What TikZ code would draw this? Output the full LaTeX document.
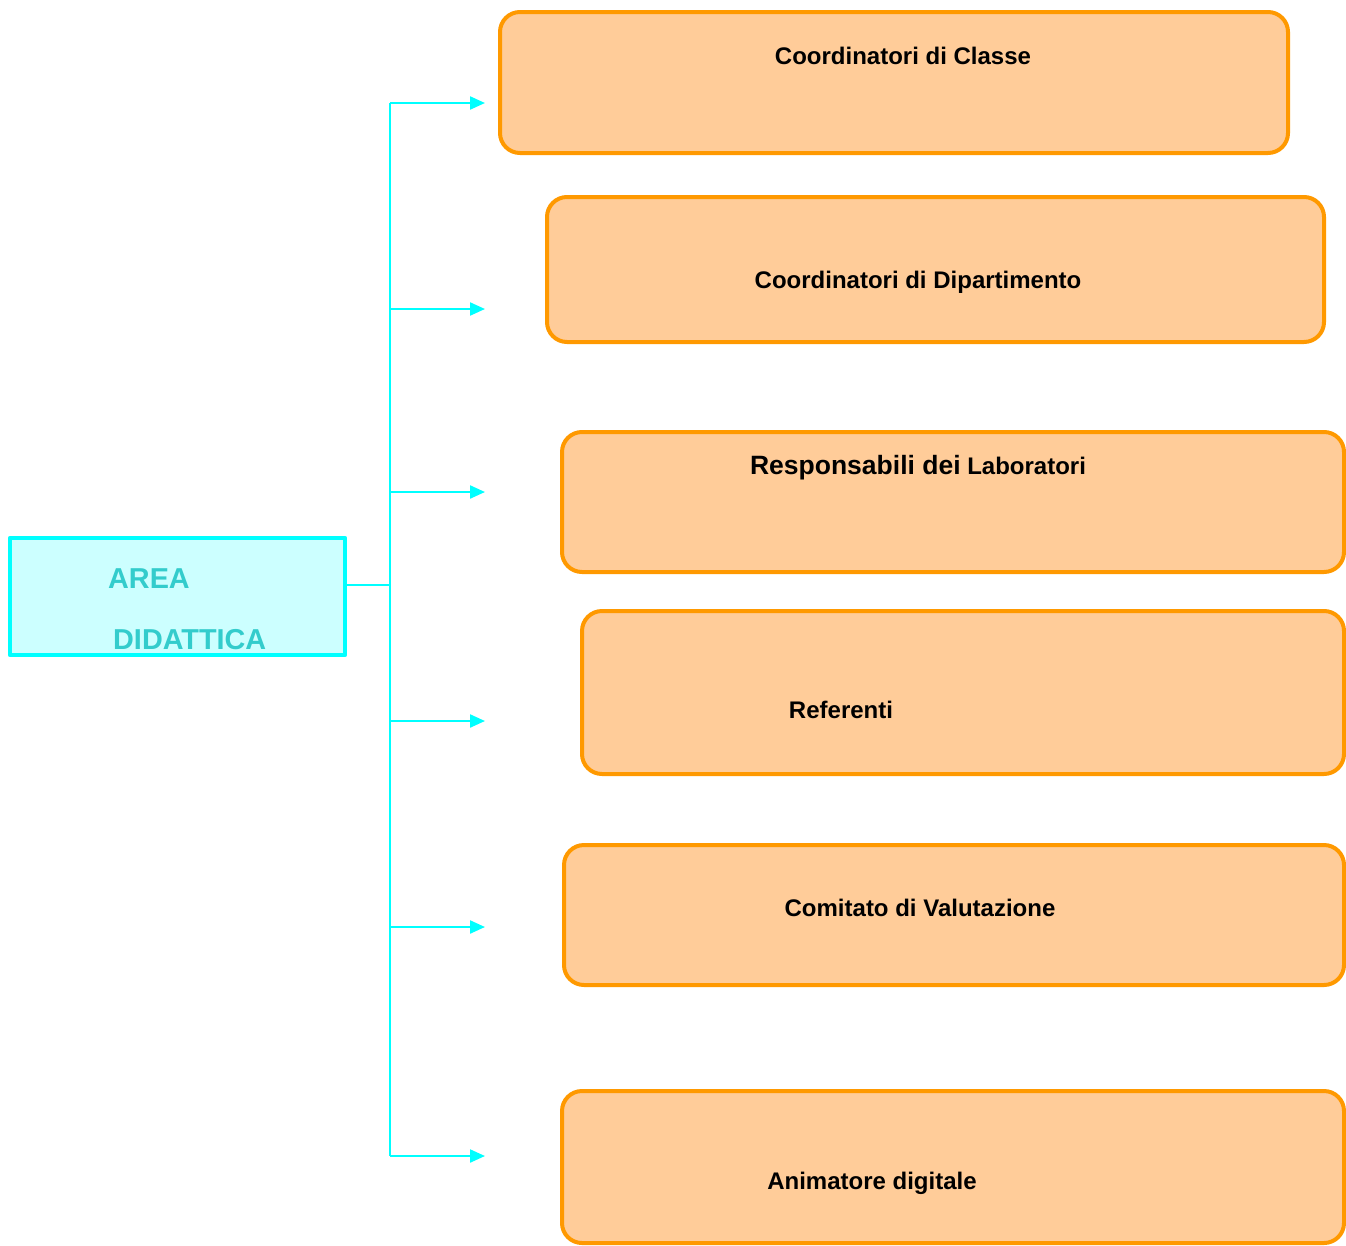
\documentclass[tikz,border=0pt]{standalone}
\usepackage{fontspec}
\setmainfont{Liberation Sans}
\usetikzlibrary{arrows.meta}
\definecolor{cyanline}{HTML}{00FFFF}
\definecolor{cyanfill}{HTML}{CCFFFF}
\definecolor{tealtext}{HTML}{33CCCC}
\definecolor{orangeline}{HTML}{FF9900}
\definecolor{orangefill}{HTML}{FFCC99}
\tikzset{
  obox/.style={draw=orangeline, fill=orangefill, line width=4pt, rounded corners=20pt},
  olabel/.style={font=\bfseries\fontsize{24}{28}\selectfont, text=black, inner sep=0pt},
  alabel/.style={font=\bfseries\fontsize{28.8}{32}\selectfont, text=tealtext, inner sep=0pt},
  conn/.style={draw=cyanline, line width=2.2pt},
  arr/.style={conn, -{Triangle[length=15pt,width=13pt]}},
}
\begin{document}
\begin{tikzpicture}[x=1pt,y=-1pt]
\useasboundingbox (0,0) rectangle (1346,1245);
% left box
\draw[draw=cyanline, fill=cyanfill, line width=4.5pt, line cap=round, line join=round]
  (10,538) rectangle (345,655);
\coordinate (area) at (345,585);
\node[alabel, anchor=west] (t1) at (108,579) {AREA};
\node[alabel, anchor=west] (t2) at (113,640) {DIDATTICA};
% right boxes
\draw[obox] (500,12) rectangle (1288,153);
\draw[obox] (547,197) rectangle (1324,342);
\draw[obox] (562,432) rectangle (1344,572);
\draw[obox] (582,611) rectangle (1344,774);
\draw[obox] (564,845) rectangle (1344,985);
\draw[obox] (562,1091) rectangle (1344,1243);
\node[olabel] (l1) at (903,56) {Coordinatori di Classe};
\node[olabel] (l2) at (918,282) {Coordinatori di Dipartimento};
\node[olabel] (l3) at (918,468) {{\fontsize{26.5}{30}\selectfont Responsabili dei} Laboratori};
\node[olabel] (l4) at (841,710) {Referenti};
\node[olabel] (l5) at (920,908) {Comitato di Valutazione};
\node[olabel] (l6) at (872,1183) {Animatore digitale};
% connectors
\coordinate (s0) at (390,585);
\coordinate (s1) at (390,103);
\coordinate (s2) at (390,309);
\coordinate (s3) at (390,492);
\coordinate (s4) at (390,721);
\coordinate (s5) at (390,927);
\coordinate (s6) at (390,1156);
\coordinate (e1) at (485,103);
\coordinate (e2) at (485,309);
\coordinate (e3) at (485,492);
\coordinate (e4) at (485,721);
\coordinate (e5) at (485,927);
\coordinate (e6) at (485,1156);
\draw[conn] (area) -- (s0);
\draw[conn] (s1) -- (s6);
\foreach \i in {1,...,6} { \draw[arr] (s\i) -- (e\i); }
\end{tikzpicture}
\end{document}
